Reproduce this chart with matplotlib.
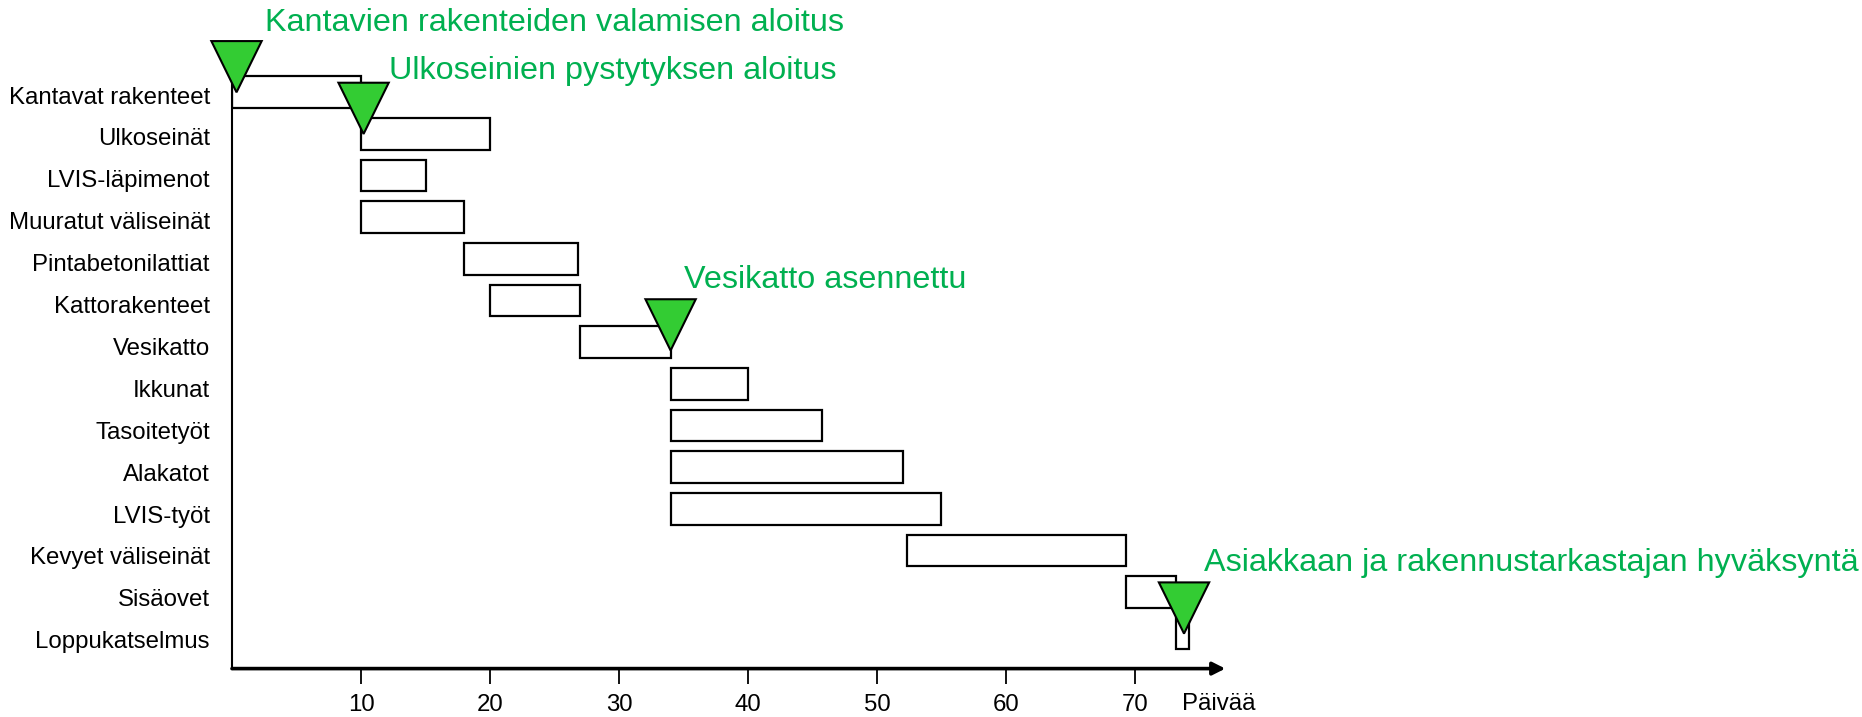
import matplotlib
matplotlib.use("Agg")
import matplotlib.pyplot as plt
from matplotlib.patches import Polygon

plt.rcParams['font.family'] = ['Liberation Sans', 'DejaVu Sans']

tasks = ["Kantavat rakenteet", "Ulkoseinät", "LVIS-läpimenot", "Muuratut väliseinät",
         "Pintabetonilattiat", "Kattorakenteet", "Vesikatto", "Ikkunat", "Tasoitetyöt",
         "Alakatot", "LVIS-työt", "Kevyet väliseinät", "Sisäovet", "Loppukatselmus"]
start = [0, 10, 10, 10, 18, 20, 27, 34, 34, 34, 34, 52.3, 69.3, 73.2]
end = [10, 20, 15, 18, 26.8, 27, 34, 40, 45.7, 52, 55, 69.3, 73.2, 74.2]

milestones = ["Kantavien rakenteiden valamisen aloitus", "Ulkoseinien pystytyksen aloitus",
              "Vesikatto asennettu", "Asiakkaan ja rakennustarkastajan hyväksyntä"]
ms_day = [0.35, 10.2, 34, 73.8]
ms_row = [0, 1, 6, 13]

xticks = [10, 20, 30, 40, 50, 60, 70]
xlabel = "Päivää"

# layout bits (pixels at dpi 100, y up)
label_off = [(28, 61), (25, 55), (13, 62), (20, 63)]
tip_drop = [0, 0, 0.2, 0]   # how far below the row centre each triangle tip sits
tri_w, tri_h = 3.9, 1.23    # in days / rows
green_fill = "#33cc33"
green_text = "#00b050"

fig = plt.figure(figsize=(18.62, 7.17), dpi=100)
ax = fig.add_axes([232 / 1862, 48.4 / 717, 993.3 / 1862, 667.9 / 717])
ybot = 13.84
ax.set_xlim(0, 77)
ax.set_ylim(ybot, -2.2)

rows = list(range(len(tasks)))
dur = [e - s for s, e in zip(start, end)]
ax.barh(rows, dur, left=start, height=0.76, color="white", edgecolor="black",
        linewidth=1.6, zorder=2)

for name, d, r, dy, off in zip(milestones, ms_day, ms_row, tip_drop, label_off):
    y = r + dy
    tri = Polygon([(d - tri_w / 2, y - tri_h), (d + tri_w / 2, y - tri_h), (d, y)],
                  closed=True, facecolor=green_fill, edgecolor="black", linewidth=1.5,
                  zorder=4, clip_on=False)
    ax.add_patch(tri)
    ax.annotate(name, xy=(d, y), xytext=off, textcoords="offset pixels",
                color=green_text, fontsize=23.3, ha="left", va="baseline",
                annotation_clip=False)

# axes
for s in ["top", "right", "bottom"]:
    ax.spines[s].set_visible(False)
ax.spines["left"].set_bounds(ybot, -0.38)
ax.spines["left"].set_linewidth(1.5)
ax.annotate("", xy=(77, ybot), xytext=(0, ybot),
            arrowprops=dict(arrowstyle="-|>,head_length=0.75,head_width=0.38",
                            lw=2.6, color="black", shrinkA=0, shrinkB=0),
            annotation_clip=False)

ax.set_yticks([r * 1.0063 + 0.065 for r in rows])
ax.set_yticklabels(tasks, fontsize=17.3)
ax.tick_params(axis="y", length=0, pad=16)
ax.set_xticks(xticks)
ax.set_xticklabels([str(t) for t in xticks], fontsize=17.3)
ax.tick_params(axis="x", length=11, width=1.3, pad=7, direction="out")
ax.text(76.5, 14.7, xlabel, fontsize=17.3, ha="center", va="center", clip_on=False)

fig.savefig("out.png", dpi=100)
